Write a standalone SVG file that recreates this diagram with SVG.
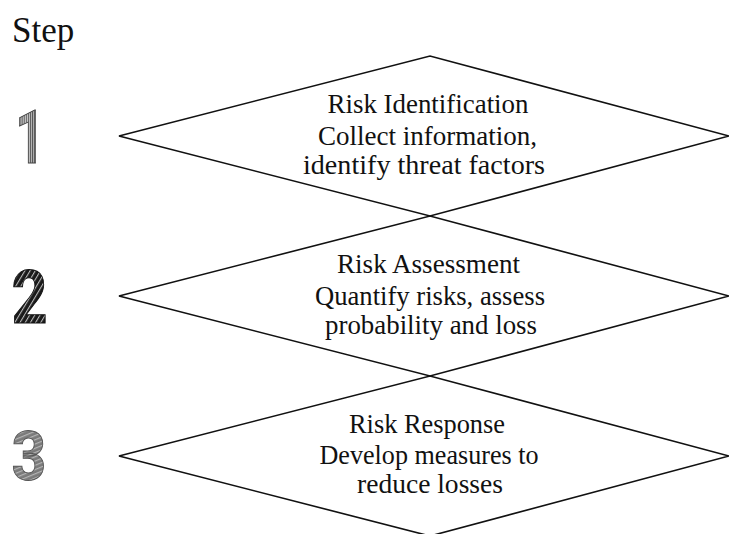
<svg xmlns="http://www.w3.org/2000/svg" width="729" height="534" viewBox="0 0 729 534">
<style>
.dia{fill:none;stroke:#111;stroke-width:1.6;stroke-linejoin:miter}
.ser{font-family:"Liberation Serif","Times New Roman",Tinos,"Noto Serif","DejaVu Serif",serif;fill:#111}
.lbl{font-size:26.5px;text-anchor:middle}
.num{font-family:Roboto,Inter,"Liberation Sans",sans-serif;font-weight:bold;text-anchor:middle}
</style>
<defs>
<pattern id="p1" width="3" height="6" patternUnits="userSpaceOnUse">
<rect width="3" height="6" fill="#c8c8c8"/>
<rect width="1.5" height="6" fill="#555"/>
</pattern>
<pattern id="p2" width="5" height="5" patternUnits="userSpaceOnUse" patternTransform="rotate(35)">
<rect width="5" height="5" fill="#1a1a1a"/>
<rect width="1.2" height="5" fill="#bbb"/>
</pattern>
<pattern id="p3" width="4" height="4" patternUnits="userSpaceOnUse" patternTransform="rotate(-20)">
<rect width="4" height="4" fill="#7a7a7a"/>
<rect width="4" height="1.2" fill="#b5b5b5"/>
</pattern>
</defs>
<text class="ser" x="12" y="42" font-size="35">Step</text>
<g id="step1">
<text class="num" transform="translate(30,163) scale(0.7,1)" font-size="74" fill="url(#p1)" stroke="#444" stroke-width="1">1</text>
<polygon class="dia" points="119,136 430,56 729,136 430,216"/>
<text class="ser lbl" x="428" y="113" textLength="201" lengthAdjust="spacingAndGlyphs">Risk Identification</text>
<text class="ser lbl" x="427.5" y="145" textLength="219" lengthAdjust="spacingAndGlyphs">Collect information,</text>
<text class="ser lbl" x="424" y="174" textLength="242" lengthAdjust="spacingAndGlyphs">identify threat factors</text>
</g>
<g id="step2">
<text class="num" transform="translate(29.5,323) scale(0.85,1)" font-size="74" fill="url(#p2)" stroke="#111" stroke-width="1">2</text>
<polygon class="dia" points="119,296 430,216 729,296 430,376"/>
<text class="ser lbl" x="428.5" y="273" textLength="183" lengthAdjust="spacingAndGlyphs">Risk Assessment</text>
<text class="ser lbl" x="430" y="305" textLength="230" lengthAdjust="spacingAndGlyphs">Quantify risks, assess</text>
<text class="ser lbl" x="431" y="334" textLength="212" lengthAdjust="spacingAndGlyphs">probability and loss</text>
</g>
<g id="step3">
<text class="num" transform="translate(29,480) scale(0.88,1)" font-size="69" fill="url(#p3)" stroke="#555" stroke-width="1">3</text>
<polygon class="dia" points="119,456 430,376 729,456 430,536"/>
<text class="ser lbl" x="427" y="433" textLength="156" lengthAdjust="spacingAndGlyphs">Risk Response</text>
<text class="ser lbl" x="429" y="464" textLength="219" lengthAdjust="spacingAndGlyphs">Develop measures to</text>
<text class="ser lbl" x="430" y="493" textLength="146" lengthAdjust="spacingAndGlyphs">reduce losses</text>
</g>
</svg>
